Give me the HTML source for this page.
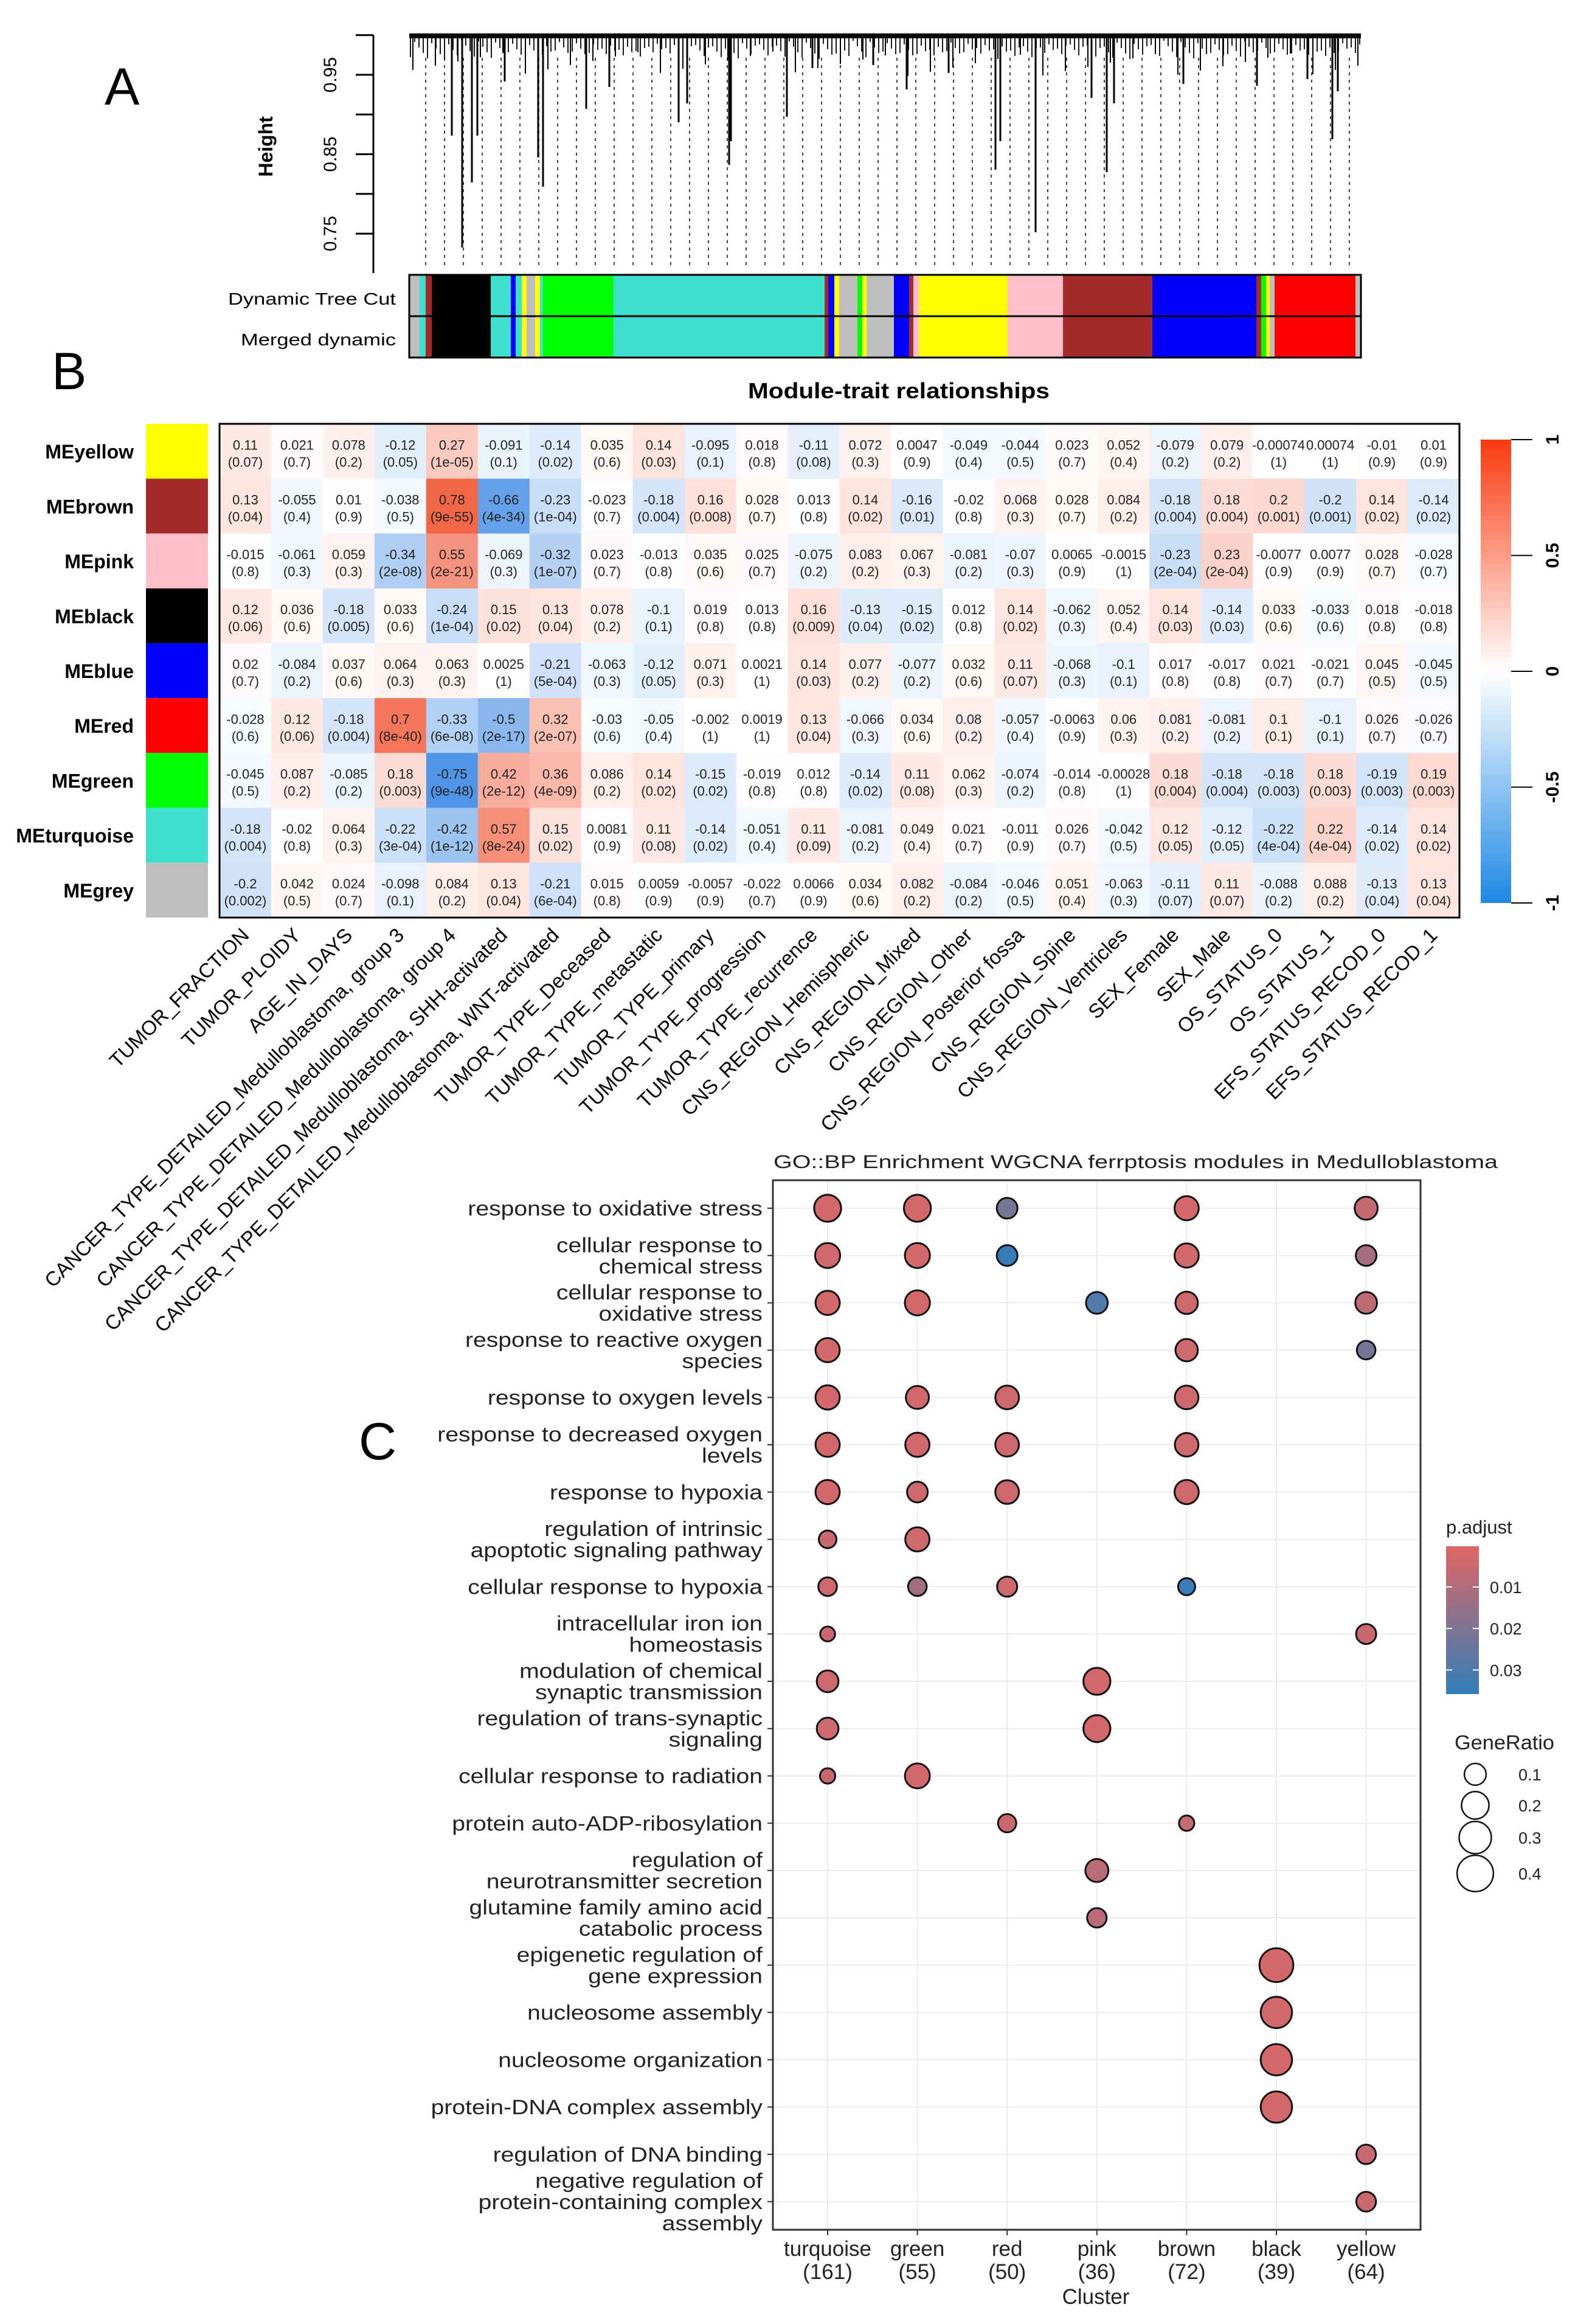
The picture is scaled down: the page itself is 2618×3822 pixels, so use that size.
<!DOCTYPE html>
<html><head><meta charset="utf-8"><title>WGCNA figure</title>
<style>
html,body{margin:0;padding:0;background:#fff;}
svg{display:block;font-family:"Liberation Sans",Arial,sans-serif;}
</style></head>
<body>
<svg id="fig" xmlns="http://www.w3.org/2000/svg" width="2618" height="3822" viewBox="0 0 2618 3822">
<defs>
<linearGradient id="corrGrad" x1="0" y1="0" x2="0" y2="1">
<stop offset="0" stop-color="#F93A10"/><stop offset="0.5" stop-color="#FFFFFF"/><stop offset="1" stop-color="#1E88E5"/>
</linearGradient>
<linearGradient id="pGrad" x1="0" y1="0" x2="0" y2="1">
<stop offset="0" stop-color="#e06663"/><stop offset="1" stop-color="#327eba"/>
</linearGradient>
</defs>
<text x="172" y="172" font-size="86">A</text>
<text x="85" y="640" font-size="86">B</text>
<text x="590" y="2400" font-size="86">C</text>
<g id="dendro"></g>
<g id="heat"></g>
<g id="dot"></g>
</svg>
<script>
// ---------------- Heatmap data ----------------
const traits = ["TUMOR_FRACTION","TUMOR_PLOIDY","AGE_IN_DAYS","CANCER_TYPE_DETAILED_Medulloblastoma, group 3","CANCER_TYPE_DETAILED_Medulloblastoma, group 4","CANCER_TYPE_DETAILED_Medulloblastoma, SHH-activated","CANCER_TYPE_DETAILED_Medulloblastoma, WNT-activated","TUMOR_TYPE_Deceased","TUMOR_TYPE_metastatic","TUMOR_TYPE_primary","TUMOR_TYPE_progression","TUMOR_TYPE_recurrence","CNS_REGION_Hemispheric","CNS_REGION_Mixed","CNS_REGION_Other","CNS_REGION_Posterior fossa","CNS_REGION_Spine","CNS_REGION_Ventricles","SEX_Female","SEX_Male","OS_STATUS_0","OS_STATUS_1","EFS_STATUS_RECOD_0","EFS_STATUS_RECOD_1"];
const modules = ["MEyellow","MEbrown","MEpink","MEblack","MEblue","MEred","MEgreen","MEturquoise","MEgrey"];
const moduleColors = ["#FFFF00","#A52A2A","#FFC0CB","#000000","#0000FF","#FF0000","#00FF00","#40E0D0","#BEBEBE"];
const corrYellow = ["0.11","0.021","0.078","-0.12","0.27","-0.091","-0.14","0.035","0.14","-0.095","0.018","-0.11","0.072","0.0047","-0.049","-0.044","0.023","0.052","-0.079","0.079","-0.00074","0.00074","-0.01","0.01"];
const pYellow = ["0.07","0.7","0.2","0.05","1e-05","0.1","0.02","0.6","0.03","0.1","0.8","0.08","0.3","0.9","0.4","0.5","0.7","0.4","0.2","0.2","1","1","0.9","0.9"];
const corrBrown = ["0.13","-0.055","0.01","-0.038","0.78","-0.66","-0.23","-0.023","-0.18","0.16","0.028","0.013","0.14","-0.16","-0.02","0.068","0.028","0.084","-0.18","0.18","0.2","-0.2","0.14","-0.14"];
const pBrown = ["0.04","0.4","0.9","0.5","9e-55","4e-34","1e-04","0.7","0.004","0.008","0.7","0.8","0.02","0.01","0.8","0.3","0.7","0.2","0.004","0.004","0.001","0.001","0.02","0.02"];
const corrPink = ["-0.015","-0.061","0.059","-0.34","0.55","-0.069","-0.32","0.023","-0.013","0.035","0.025","-0.075","0.083","0.067","-0.081","-0.07","0.0065","-0.0015","-0.23","0.23","-0.0077","0.0077","0.028","-0.028"];
const pPink = ["0.8","0.3","0.3","2e-08","2e-21","0.3","1e-07","0.7","0.8","0.6","0.7","0.2","0.2","0.3","0.2","0.3","0.9","1","2e-04","2e-04","0.9","0.9","0.7","0.7"];
const corrBlack = ["0.12","0.036","-0.18","0.033","-0.24","0.15","0.13","0.078","-0.1","0.019","0.013","0.16","-0.13","-0.15","0.012","0.14","-0.062","0.052","0.14","-0.14","0.033","-0.033","0.018","-0.018"];
const pBlack = ["0.06","0.6","0.005","0.6","1e-04","0.02","0.04","0.2","0.1","0.8","0.8","0.009","0.04","0.02","0.8","0.02","0.3","0.4","0.03","0.03","0.6","0.6","0.8","0.8"];
const corrBlue = ["0.02","-0.084","0.037","0.064","0.063","0.0025","-0.21","-0.063","-0.12","0.071","0.0021","0.14","0.077","-0.077","0.032","0.11","-0.068","-0.1","0.017","-0.017","0.021","-0.021","0.045","-0.045"];
const pBlue = ["0.7","0.2","0.6","0.3","0.3","1","5e-04","0.3","0.05","0.3","1","0.03","0.2","0.2","0.6","0.07","0.3","0.1","0.8","0.8","0.7","0.7","0.5","0.5"];
const corrRed = ["-0.028","0.12","-0.18","0.7","-0.33","-0.5","0.32","-0.03","-0.05","-0.002","0.0019","0.13","-0.066","0.034","0.08","-0.057","-0.0063","0.06","0.081","-0.081","0.1","-0.1","0.026","-0.026"];
const pRed = ["0.6","0.06","0.004","8e-40","6e-08","2e-17","2e-07","0.6","0.4","1","1","0.04","0.3","0.6","0.2","0.4","0.9","0.3","0.2","0.2","0.1","0.1","0.7","0.7"];
const corrGreen = ["-0.045","0.087","-0.085","0.18","-0.75","0.42","0.36","0.086","0.14","-0.15","-0.019","0.012","-0.14","0.11","0.062","-0.074","-0.014","-0.00028","0.18","-0.18","-0.18","0.18","-0.19","0.19"];
const pGreen = ["0.5","0.2","0.2","0.003","9e-48","2e-12","4e-09","0.2","0.02","0.02","0.8","0.8","0.02","0.08","0.3","0.2","0.8","1","0.004","0.004","0.003","0.003","0.003","0.003"];
const corrTurq = ["-0.18","-0.02","0.064","-0.22","-0.42","0.57","0.15","0.0081","0.11","-0.14","-0.051","0.11","-0.081","0.049","0.021","-0.011","0.026","-0.042","0.12","-0.12","-0.22","0.22","-0.14","0.14"];
const pTurq = ["0.004","0.8","0.3","3e-04","1e-12","8e-24","0.02","0.9","0.08","0.02","0.4","0.09","0.2","0.4","0.7","0.9","0.7","0.5","0.05","0.05","4e-04","4e-04","0.02","0.02"];
const corrGrey = ["-0.2","0.042","0.024","-0.098","0.084","0.13","-0.21","0.015","0.0059","-0.0057","-0.022","0.0066","0.034","0.082","-0.084","-0.046","0.051","-0.063","-0.11","0.11","-0.088","0.088","-0.13","0.13"];
const pGrey = ["0.002","0.5","0.7","0.1","0.2","0.04","6e-04","0.8","0.9","0.9","0.7","0.9","0.6","0.2","0.2","0.5","0.4","0.3","0.07","0.07","0.2","0.2","0.04","0.04"];
const corrRows = [corrYellow,corrBrown,corrPink,corrBlack,corrBlue,corrRed,corrGreen,corrTurq,corrGrey];
const pRows = [pYellow,pBrown,pPink,pBlack,pBlue,pRed,pGreen,pTurq,pGrey];
const corrTicks = ["1","0.5","0","-0.5","-1"];
const corrTickValues = [1,0.5,0,-0.5,-1];

// ---------------- Dot plot data ----------------
const clusters = ["turquoise","green","red","pink","brown","black","yellow"];
const clusterSizes = ["(161)","(55)","(50)","(36)","(72)","(39)","(64)"];
const terms = [
 ["response to oxidative stress"],
 ["cellular response to","chemical stress"],
 ["cellular response to","oxidative stress"],
 ["response to reactive oxygen","species"],
 ["response to oxygen levels"],
 ["response to decreased oxygen","levels"],
 ["response to hypoxia"],
 ["regulation of intrinsic","apoptotic signaling pathway"],
 ["cellular response to hypoxia"],
 ["intracellular iron ion","homeostasis"],
 ["modulation of chemical","synaptic transmission"],
 ["regulation of trans-synaptic","signaling"],
 ["cellular response to radiation"],
 ["protein auto-ADP-ribosylation"],
 ["regulation of","neurotransmitter secretion"],
 ["glutamine family amino acid","catabolic process"],
 ["epigenetic regulation of","gene expression"],
 ["nucleosome assembly"],
 ["nucleosome organization"],
 ["protein-DNA complex assembly"],
 ["regulation of DNA binding"],
 ["negative regulation of","protein-containing complex","assembly"]
];
const dotTerm    = [0,0,0,0,0, 1,1,1,1,1, 2,2,2,2,2, 3,3,3, 4,4,4,4, 5,5,5,5, 6,6,6,6, 7,7, 8,8,8,8, 9,9, 10,10, 11,11, 12,12, 13,13, 14, 15, 16, 17, 18, 19, 20, 21];
const dotCluster = [0,1,2,4,6, 0,1,2,4,6, 0,1,3,4,6, 0,4,6, 0,1,2,4, 0,1,2,4, 0,1,2,4, 0,1, 0,1,2,4, 0,6, 0,3, 0,3, 0,1, 2,4, 3, 3, 5, 5, 5, 5, 6, 6];
const dotRatio   = [0.19,0.19,0.084,0.14,0.12, 0.155,0.155,0.084,0.14,0.084, 0.14,0.155,0.1,0.11,0.1, 0.14,0.11,0.055, 0.14,0.12,0.13,0.13, 0.14,0.14,0.13,0.13, 0.14,0.084,0.13,0.14, 0.042,0.14, 0.055,0.055,0.075,0.035, 0.01,0.075, 0.1,0.19, 0.1,0.19, 0.015,0.152, 0.05,0.015, 0.12, 0.067, 0.34, 0.28, 0.28, 0.28, 0.067, 0.07];
const dotPadj    = [0.003,0.003,0.022,0.003,0.006, 0.003,0.003,0.035,0.003,0.012, 0.003,0.003,0.03,0.004,0.007, 0.003,0.004,0.022, 0.003,0.003,0.004,0.004, 0.003,0.003,0.004,0.004, 0.003,0.004,0.004,0.004, 0.005,0.004, 0.004,0.013,0.004,0.034, 0.005,0.005, 0.004,0.003, 0.004,0.003, 0.005,0.003, 0.005,0.006, 0.008, 0.008, 0.003, 0.003, 0.003, 0.003, 0.005, 0.005];
const pLegendTicks = ["0.01","0.02","0.03"];
const pLegendValues = [0.01,0.02,0.03];
const sizeLegendTicks = ["0.1","0.2","0.3","0.4"];
const sizeLegendValues = [0.1,0.2,0.3,0.4];

const NS = "http://www.w3.org/2000/svg";
function mk(tag, attrs, parent){ const e=document.createElementNS(NS,tag); for(const k in attrs) e.setAttribute(k,attrs[k]); if(parent) parent.appendChild(e); return e; }

// ================= Dendrogram (panel A) =================
const dg = document.getElementById('dendro');
const dLeft=673, dRight=2238;
function hY(h){ return 123 + (0.95-h)/0.05*65.3; }
const heightTicks=[1.0,0.95,0.90,0.85,0.80,0.75];
const heightLabels=["0.95","0.85","0.75"];
const heightLabelVals=[0.95,0.85,0.75];
let ax=mk('line',{x1:614,y1:hY(1.0),x2:614,y2:449,stroke:'#000','stroke-width':3},dg);


heightTicks.forEach(h=>{ const t=mk('line',{x1:585,y1:hY(h),x2:614,y2:hY(h),stroke:'#000','stroke-width':3},dg);
 
  });
heightLabelVals.forEach((h,i)=>{ const t=mk('text',{x:0,y:0,'font-size':30,'text-anchor':'middle',transform:`translate(553,${hY(h)}) rotate(-90)`},dg); t.textContent=heightLabels[i];
 
  });
let hl=mk('text',{x:0,y:0,'font-size':32,'font-weight':'bold','text-anchor':'middle',transform:'translate(448,241) rotate(-90)'},dg); hl.textContent='Height';


for(let x=700;x<=2232;x+=31){ const l=mk('line',{x1:x,y1:95,x2:x,y2:440,stroke:'#444','stroke-width':2,'stroke-dasharray':'5,7'},dg);
 
  }
mk('rect',{x:dLeft,y:55,width:dRight-dLeft,height:8,fill:'#000'},dg);
for(let x=dLeft+2;x<dRight;x+=7){ const len=6+((x*37)%23)+((x*13)%11); mk('line',{x1:x,y1:60,x2:x,y2:60+len,stroke:'#000','stroke-width':1.8},dg); }
for(let x=dLeft+6;x<dRight;x+=37){ const len=25+((x*53)%41); mk('line',{x1:x,y1:60,x2:x,y2:60+len,stroke:'#000','stroke-width':2},dg); }
const drops=[[760,407],[785,223],[893,307],[1199,271],[1637,279],[1703,382],[1820,283],[2191,229],[1294,192],[964,179],[1832,170],[1116,201],[830,134],[1002,143],[1946,138],[2067,141],[1491,147],[1336,112],[1436,107],[743,223],[885,259],[1202,232],[1645,232],[1795,161],[776,300],[1130,170],[1560,120],[2150,130],[2200,150]];
drops.forEach(d=>{ const l=mk('line',{x1:d[0],y1:62,x2:d[0],y2:d[1],stroke:'#000','stroke-width':3},dg);
 
  });
const segs=[[673,690,'#BEBEBE'],[690,700,'#40E0D0'],[700,710,'#A52A2A'],[710,807,'#000000'],[807,840,'#40E0D0'],[840,848,'#0000FF'],[848,858,'#40E0D0'],[858,866,'#FFFF00'],[866,880,'#BEBEBE'],[880,888,'#FFFF00'],[888,893,'#40E0D0'],[893,1009,'#00FF00'],[1009,1356,'#40E0D0'],[1356,1362,'#A52A2A'],[1362,1372,'#0000FF'],[1372,1380,'#FFFF00'],[1380,1410,'#BEBEBE'],[1410,1418,'#00FF00'],[1418,1425,'#FFFF00'],[1425,1470,'#BEBEBE'],[1470,1495,'#0000FF'],[1495,1502,'#A52A2A'],[1502,1511,'#FFC0CB'],[1511,1657,'#FFFF00'],[1657,1748,'#FFC0CB'],[1748,1895,'#A52A2A'],[1895,2066,'#0000FF'],[2066,2074,'#A52A2A'],[2074,2082,'#00FF00'],[2082,2088,'#FFFF00'],[2088,2096,'#BEBEBE'],[2096,2229,'#FF0000'],[2229,2238,'#BEBEBE']];
segs.forEach(s=>{ const r=mk('rect',{x:s[0],y:452,width:s[1]-s[0],height:136,fill:s[2]},dg);
 
  });
mk('line',{x1:673,y1:520,x2:2238,y2:520,stroke:'#000','stroke-width':3},dg);
mk('rect',{x:673,y:452,width:1565,height:136,fill:'none',stroke:'#000','stroke-width':3},dg);
let t1=mk('text',{x:651,y:501,'font-size':28,'text-anchor':'end',textLength:276,lengthAdjust:'spacingAndGlyphs'},dg); t1.textContent='Dynamic Tree Cut';


let t2=mk('text',{x:651,y:568,'font-size':28,'text-anchor':'end',textLength:255,lengthAdjust:'spacingAndGlyphs'},dg); t2.textContent='Merged dynamic';



// ================= Heatmap (panel B) =================
const hg=document.getElementById('heat');
const hL=361, hR=2400, hT=697, hB=1509;
const cw=(hR-hL)/traits.length, rh=(hB-hT)/modules.length;
function colX(i){ return hL+i*cw; }
function rowY(j){ return hT+j*rh; }
function mix(a,b,t){ return Math.round(a+(b-a)*t); }
function corrColor(v){ const t=Math.min(1,Math.abs(v)); const c=v>=0?[238,59,20]:[21,112,220]; return `rgb(${mix(255,c[0],t)},${mix(255,c[1],t)},${mix(255,c[2],t)})`; }
let ht=mk('text',{x:1478,y:655,'font-size':36,'font-weight':'bold','text-anchor':'middle',textLength:496,lengthAdjust:'spacingAndGlyphs'},hg); ht.textContent='Module-trait relationships';


modules.forEach((m,j)=>{
 const sw=mk('rect',{x:240,y:rowY(j),width:102,height:rh,fill:moduleColors[j]},hg);
 
 
 const lb=mk('text',{x:220,y:rowY(j)+rh/2+12,'font-size':32,'text-anchor':'end','font-weight':'bold'},hg); lb.textContent=m;
 
 
 traits.forEach((tr,i)=>{
  const v=parseFloat(corrRows[j][i]);
  const c=mk('rect',{x:colX(i),y:rowY(j),width:cw+0.5,height:rh+0.5,fill:corrColor(v)},hg);
  
  
  const tx=mk('text',{x:colX(i)+cw/2,y:rowY(j)+rh*0.38+8,'font-size':22,'text-anchor':'middle',fill:'#222'},hg); tx.textContent=corrRows[j][i];
  
  
  const tp=mk('text',{x:colX(i)+cw/2,y:rowY(j)+rh*0.69+8,'font-size':22,'text-anchor':'middle',fill:'#222'},hg); tp.textContent='('+pRows[j][i]+')';
  
  
 });
});
mk('rect',{x:hL,y:hT,width:hR-hL,height:hB-hT,fill:'none',stroke:'#000','stroke-width':3},hg);
traits.forEach((tr,i)=>{
 const t=mk('text',{x:0,y:0,'font-size':33,'text-anchor':'end',transform:`translate(${colX(i)+cw/2+8},${1540}) rotate(-45)`},hg); t.textContent=tr;
 
 
});
const cbT=723, cbB=1485;
function cbY(v){ return cbT+(1-v)/2*(cbB-cbT); }
let cb=mk('rect',{x:2435,y:cbT,width:50,height:cbB-cbT,fill:'url(#corrGrad)'},hg);


corrTickValues.forEach((v,i)=>{
 mk('line',{x1:2485,y1:cbY(v),x2:2520,y2:cbY(v),stroke:'#000','stroke-width':2},hg);
 const t=mk('text',{x:0,y:0,'font-size':30,'font-weight':'bold','text-anchor':'middle',transform:`translate(2563,${cbY(v)}) rotate(-90)`},hg); t.textContent=corrTicks[i];
 
 
});

// ================= Dot plot (panel C) =================
const gg=document.getElementById('dot');
const pL=1271, pR=2336, pT=1941, pB=3667;
const colXs0=1361, colStep=147.6, row0=1987, rowStep=77.8;
function cx(k){ return colXs0+k*colStep; }
function ry(t){ return row0+t*rowStep; }
function rad(g){ return Math.sqrt(130+1900*g); }
const pMin=0.0002, pMax=0.0358;
function pCol(p){ const t=Math.max(0,Math.min(1,(p-pMin)/(pMax-pMin))); return `rgb(${mix(224,50,t)},${mix(102,126,t)},${mix(99,186,t)})`; }
let gt=mk('text',{x:1272,y:1921,'font-size':31,textLength:1191,lengthAdjust:'spacingAndGlyphs',fill:'#222'},gg); gt.textContent='GO::BP Enrichment WGCNA ferrptosis modules in Medulloblastoma';


mk('rect',{x:pL,y:pT,width:pR-pL,height:pB-pT,fill:'#fff'},gg);
clusters.forEach((c,k)=>{ const l=mk('line',{x1:cx(k),y1:pT,x2:cx(k),y2:pB,stroke:'#EBEBEB','stroke-width':2},gg);
 
  });
terms.forEach((tm,t)=>{
 const l=mk('line',{x1:pL,y1:ry(t),x2:pR,y2:ry(t),stroke:'#EBEBEB','stroke-width':2},gg);
 
 
 mk('line',{x1:pL-9,y1:ry(t),x2:pL,y2:ry(t),stroke:'#333','stroke-width':2},gg);
 const n=tm.length;
 tm.forEach((line,i)=>{
  const tx=mk('text',{x:1254,y:ry(t)+12+(i-(n-1)/2)*35,'font-size':34,'text-anchor':'end',fill:'#222'},gg); tx.textContent=line;
  
  
  const w=tx.getComputedTextLength();
  if(w>0){ tx.setAttribute('textLength', (w*1.15).toFixed(1)); tx.setAttribute('lengthAdjust','spacingAndGlyphs'); }
 });
});
mk('rect',{x:pL,y:pT,width:pR-pL,height:pB-pT,fill:'none',stroke:'#333','stroke-width':3},gg);
dotTerm.forEach((t,i)=>{
 const c=mk('circle',{cx:cx(dotCluster[i]),cy:ry(t),r:rad(dotRatio[i]),fill:pCol(dotPadj[i]),stroke:'#111','stroke-width':3},gg);
 
 
});
clusters.forEach((c,k)=>{
 mk('line',{x1:cx(k),y1:pB,x2:cx(k),y2:pB+9,stroke:'#333','stroke-width':2},gg);
 const a=mk('text',{x:cx(k),y:3710,'font-size':35,'text-anchor':'middle',fill:'#222'},gg); a.textContent=c;
 
 
 const b=mk('text',{x:cx(k),y:3748,'font-size':35,'text-anchor':'middle',fill:'#222'},gg); b.textContent=clusterSizes[k];
 
 
});
let xt=mk('text',{x:1802,y:3789,'font-size':35,'text-anchor':'middle',fill:'#222'},gg); xt.textContent='Cluster';


let pt=mk('text',{x:2378,y:2522,'font-size':31,fill:'#222'},gg); pt.textContent='p.adjust';


const lgT=2543, lgB=2786;
function lgY(p){ return lgT+(p-pMin)/(pMax-pMin)*(lgB-lgT); }
let pb=mk('rect',{x:2378,y:lgT,width:54,height:lgB-lgT,fill:'url(#pGrad)'},gg);


pLegendValues.forEach((v,i)=>{
 mk('line',{x1:2378,y1:lgY(v),x2:2388,y2:lgY(v),stroke:'#fff','stroke-width':2},gg);
 mk('line',{x1:2422,y1:lgY(v),x2:2432,y2:lgY(v),stroke:'#fff','stroke-width':2},gg);
 const t=mk('text',{x:2450,y:lgY(v)+10,'font-size':27,fill:'#222'},gg); t.textContent=pLegendTicks[i];
 
 
});
let st=mk('text',{x:2392,y:2877,'font-size':33,fill:'#222',textLength:164,lengthAdjust:'spacingAndGlyphs'},gg); st.textContent='GeneRatio';


const sizeYs=[2918,2969,3022,3081];
sizeLegendValues.forEach((v,i)=>{
 const c=mk('circle',{cx:2426,cy:sizeYs[i],r:rad(v),fill:'none',stroke:'#111','stroke-width':2.5},gg);
 
 
 const t=mk('text',{x:2497,y:sizeYs[i]+10,'font-size':27,fill:'#222'},gg); t.textContent=sizeLegendTicks[i];
 
 
});
</script>
</body></html>
